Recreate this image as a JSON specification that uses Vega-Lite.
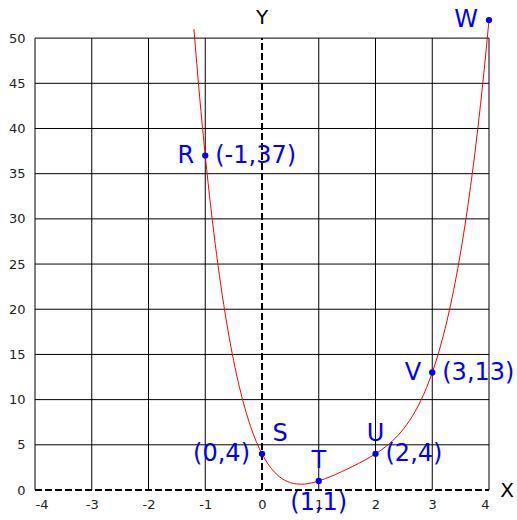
{
  "$schema": "https://vega.github.io/schema/vega-lite/v6.json",
  "width": 454,
  "height": 479,
  "autosize": "none",
  "padding": {"left": 35, "top": 11, "right": 28, "bottom": 30},
  "background": "white",
  "config": {"view": {"stroke": null}, "font": "DejaVu Sans"},
  "datasets": {
    "vgrid": [{"gx": -4}, {"gx": -3}, {"gx": -2}, {"gx": -1}, {"gx": 1}, {"gx": 2}, {"gx": 3}, {"gx": 4}],
    "hgrid": [{"gy": 5}, {"gy": 10}, {"gy": 15}, {"gy": 20}, {"gy": 25}, {"gy": 30}, {"gy": 35}, {"gy": 40}, {"gy": 45}, {"gy": 50}],
    "curve": [
      {"x": -1.2, "y": 51.0}, {"x": -1.1, "y": 43.59}, {"x": -1.0, "y": 37}, {"x": -0.9, "y": 31.17},
      {"x": -0.8, "y": 26.04}, {"x": -0.7, "y": 21.56}, {"x": -0.6, "y": 17.67}, {"x": -0.5, "y": 14.31},
      {"x": -0.4, "y": 11.45}, {"x": -0.3, "y": 9.03}, {"x": -0.2, "y": 7.01}, {"x": -0.1, "y": 5.35},
      {"x": 0.0, "y": 4}, {"x": 0.1, "y": 2.934}, {"x": 0.2, "y": 2.114}, {"x": 0.3, "y": 1.506},
      {"x": 0.4, "y": 1.082}, {"x": 0.5, "y": 0.8125}, {"x": 0.6, "y": 0.674}, {"x": 0.7, "y": 0.642},
      {"x": 0.8, "y": 0.698}, {"x": 0.9, "y": 0.822}, {"x": 1.0, "y": 1}, {"x": 1.1, "y": 1.218},
      {"x": 1.2, "y": 1.466}, {"x": 1.3, "y": 1.734}, {"x": 1.4, "y": 2.018}, {"x": 1.5, "y": 2.3125},
      {"x": 1.6, "y": 2.618}, {"x": 1.7, "y": 2.934}, {"x": 1.8, "y": 3.266}, {"x": 1.9, "y": 3.618},
      {"x": 2.0, "y": 4}, {"x": 2.1, "y": 4.422}, {"x": 2.2, "y": 4.898}, {"x": 2.3, "y": 5.442},
      {"x": 2.4, "y": 6.074}, {"x": 2.5, "y": 6.8125}, {"x": 2.6, "y": 7.682}, {"x": 2.7, "y": 8.706},
      {"x": 2.8, "y": 9.914}, {"x": 2.9, "y": 11.334}, {"x": 3.0, "y": 13}, {"x": 3.1, "y": 14.946},
      {"x": 3.2, "y": 17.21}, {"x": 3.3, "y": 19.83}, {"x": 3.4, "y": 22.85}, {"x": 3.5, "y": 26.31},
      {"x": 3.6, "y": 30.27}, {"x": 3.7, "y": 34.76}, {"x": 3.8, "y": 39.84}, {"x": 3.9, "y": 45.57},
      {"x": 4.0, "y": 52}
    ],
    "pts": [
      {"x": -1, "y": 37, "name": "R", "coord": "(-1,37)"},
      {"x": 0, "y": 4, "name": "S", "coord": "(0,4)"},
      {"x": 1, "y": 1, "name": "T", "coord": "(1,1)"},
      {"x": 2, "y": 4, "name": "U", "coord": "(2,4)"},
      {"x": 3, "y": 13, "name": "V", "coord": "(3,13)"},
      {"x": 4, "y": 52, "name": "W", "coord": ""}
    ],
    "axisnames": [{"x": 4, "y": 0, "t": "X"}, {"x": 0, "y": 50, "t": "Y"}]
  },
  "encoding": {
    "x": {"type": "quantitative", "scale": {"domain": [-4, 4], "nice": false, "zero": false}},
    "y": {"type": "quantitative", "scale": {"domain": [0, 53], "nice": false}}
  },
  "layer": [
    {
      "data": {"name": "vgrid"},
      "mark": {"type": "rule", "color": "black", "strokeWidth": 1},
      "encoding": {
        "x": {"field": "gx", "type": "quantitative", "axis": {"values": [-4, -3, -2, -1, 0, 1, 2, 3, 4], "labelExpr": "'' + datum.value", "title": null, "grid": false, "ticks": false, "domain": false, "labelFontSize": 13, "labelColor": "#222", "labelPadding": 8, "labelFont": "DejaVu Sans"}},
        "y": {"datum": 0, "type": "quantitative", "axis": {"values": [0, 5, 10, 15, 20, 25, 30, 35, 40, 45, 50], "labelExpr": "'' + datum.value", "title": null, "grid": false, "ticks": false, "domain": false, "labelFontSize": 13, "labelColor": "#222", "labelPadding": 10, "labelFont": "DejaVu Sans"}},
        "y2": {"datum": 50}
      }
    },
    {
      "data": {"name": "hgrid"},
      "mark": {"type": "rule", "color": "black", "strokeWidth": 1},
      "encoding": {
        "y": {"field": "gy", "type": "quantitative"},
        "x": {"datum": -4, "type": "quantitative"},
        "x2": {"datum": 4}
      }
    },
    {
      "data": {"values": [{"a": 0}]},
      "mark": {"type": "rule", "color": "black", "strokeWidth": 2, "strokeDash": [7, 3]},
      "encoding": {
        "x": {"datum": 0, "type": "quantitative"},
        "y": {"datum": 0, "type": "quantitative"},
        "y2": {"datum": 50}
      }
    },
    {
      "data": {"values": [{"a": 0}]},
      "mark": {"type": "rule", "color": "black", "strokeWidth": 2, "strokeDash": [7, 3]},
      "encoding": {
        "y": {"datum": 0, "type": "quantitative"},
        "x": {"datum": -4, "type": "quantitative"},
        "x2": {"datum": 4}
      }
    },
    {
      "data": {"name": "curve"},
      "mark": {"type": "line", "color": "#ff0000", "strokeWidth": 1, "interpolate": "monotone"},
      "encoding": {
        "x": {"field": "x", "type": "quantitative"},
        "y": {"field": "y", "type": "quantitative"}
      }
    },
    {
      "data": {"name": "pts"},
      "mark": {"type": "point", "filled": true, "color": "#0000ff", "opacity": 1, "size": 40},
      "encoding": {
        "x": {"field": "x", "type": "quantitative"},
        "y": {"field": "y", "type": "quantitative"}
      }
    },
    {
      "data": {"name": "pts"},
      "transform": [{"filter": "indexof(['R','V','W'], datum.name) >= 0"}],
      "mark": {"type": "text", "color": "#0000ff", "fontSize": 24, "font": "DejaVu Sans", "align": "right", "baseline": "middle", "dx": -11},
      "encoding": {
        "x": {"field": "x", "type": "quantitative"},
        "y": {"field": "y", "type": "quantitative"},
        "text": {"field": "name"}
      }
    },
    {
      "data": {"name": "pts"},
      "transform": [{"filter": "indexof(['T','U'], datum.name) >= 0"}],
      "mark": {"type": "text", "color": "#0000ff", "fontSize": 24, "font": "DejaVu Sans", "align": "center", "baseline": "middle", "dy": -20},
      "encoding": {
        "x": {"field": "x", "type": "quantitative"},
        "y": {"field": "y", "type": "quantitative"},
        "text": {"field": "name"}
      }
    },
    {
      "data": {"name": "pts"},
      "transform": [{"filter": "datum.name == 'S'"}],
      "mark": {"type": "text", "color": "#0000ff", "fontSize": 24, "font": "DejaVu Sans", "align": "center", "baseline": "middle", "dx": 18, "dy": -20},
      "encoding": {
        "x": {"field": "x", "type": "quantitative"},
        "y": {"field": "y", "type": "quantitative"},
        "text": {"field": "name"}
      }
    },
    {
      "data": {"name": "pts"},
      "transform": [{"filter": "indexof(['R','U','V'], datum.name) >= 0"}],
      "mark": {"type": "text", "color": "#0000ff", "fontSize": 24, "font": "DejaVu Sans", "align": "left", "baseline": "middle", "dx": 10},
      "encoding": {
        "x": {"field": "x", "type": "quantitative"},
        "y": {"field": "y", "type": "quantitative"},
        "text": {"field": "coord"}
      }
    },
    {
      "data": {"name": "pts"},
      "transform": [{"filter": "datum.name == 'S'"}],
      "mark": {"type": "text", "color": "#0000ff", "fontSize": 24, "font": "DejaVu Sans", "align": "right", "baseline": "middle", "dx": -12},
      "encoding": {
        "x": {"field": "x", "type": "quantitative"},
        "y": {"field": "y", "type": "quantitative"},
        "text": {"field": "coord"}
      }
    },
    {
      "data": {"name": "pts"},
      "transform": [{"filter": "datum.name == 'T'"}],
      "mark": {"type": "text", "color": "#0000ff", "fontSize": 24, "font": "DejaVu Sans", "align": "center", "baseline": "middle", "dy": 22},
      "encoding": {
        "x": {"field": "x", "type": "quantitative"},
        "y": {"field": "y", "type": "quantitative"},
        "text": {"field": "coord"}
      }
    },
    {
      "data": {"name": "axisnames"},
      "transform": [{"filter": "datum.t == 'X'"}],
      "mark": {"type": "text", "color": "black", "fontSize": 20, "font": "DejaVu Sans", "align": "center", "baseline": "middle", "dx": 18, "dy": 1},
      "encoding": {
        "x": {"field": "x", "type": "quantitative"},
        "y": {"field": "y", "type": "quantitative"},
        "text": {"field": "t"}
      }
    },
    {
      "data": {"name": "axisnames"},
      "transform": [{"filter": "datum.t == 'Y'"}],
      "mark": {"type": "text", "color": "black", "fontSize": 20, "font": "DejaVu Sans", "align": "center", "baseline": "middle", "dy": -20},
      "encoding": {
        "x": {"field": "x", "type": "quantitative"},
        "y": {"field": "y", "type": "quantitative"},
        "text": {"field": "t"}
      }
    }
  ]
}
